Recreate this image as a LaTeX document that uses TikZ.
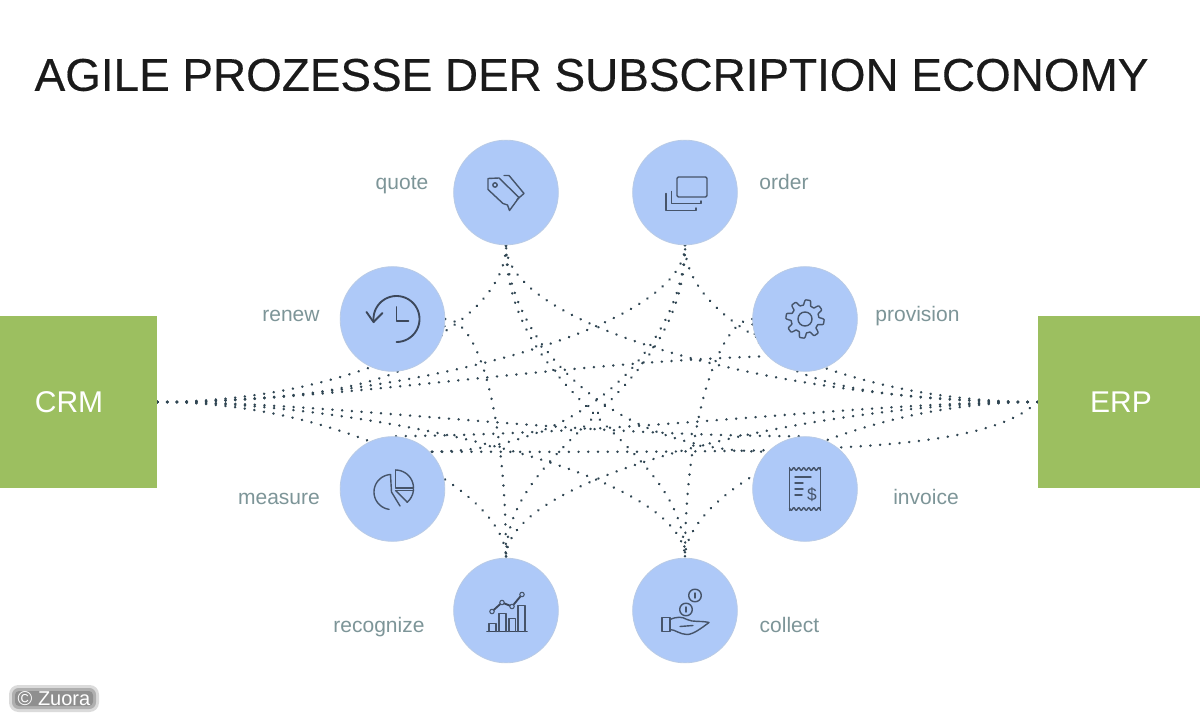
\documentclass[tikz,border=0pt]{standalone}
\usepackage{fontspec}
\setmainfont{Liberation Sans}
\newfontfamily\titlefont[FakeBold=0.35]{Liberation Sans}
\usetikzlibrary{calc}
\pgfdeclarelayer{bg}
\pgfsetlayers{bg,main}
\definecolor{cgreen}{HTML}{9CBF60}
\definecolor{cblue}{HTML}{AEC9F8}
\definecolor{cedge}{HTML}{B9CBE6}
\definecolor{clabel}{HTML}{7D9598}
\definecolor{cdot}{HTML}{2F4552}
\definecolor{cicon}{HTML}{46546A}
\definecolor{ctitle}{HTML}{1A1A1A}
\tikzset{
  bub/.style={circle,fill=cblue,draw=cedge,line width=.6pt,minimum size=78.5pt,inner sep=0pt},
  sys/.style={rectangle,fill=cgreen,draw=none,inner sep=0pt},
  syst/.style={text=white,inner sep=0pt,font=\fontsize{22.5pt}{26pt}\selectfont},
  lab/.style={text=clabel,inner sep=0pt,anchor=base,font=\fontsize{15.75pt}{18pt}\selectfont},
  link/.style={draw=cdot,line width=2pt,line cap=round,dash pattern=on .05pt off 7.25pt},
  ico/.style={draw=cicon,line width=1.05pt,line join=round,line cap=round},
  icod/.style={draw=cicon!85!black,line width=1.4pt,line join=round,line cap=round}
}
\begin{document}
\begin{tikzpicture}[x=.75pt,y=-.75pt]
\useasboundingbox (0,0) rectangle (1200,720);
% title
\node[name=title,text=ctitle,inner sep=0pt,font=\titlefont\fontsize{34.4pt}{40pt}\selectfont] at (591.5,75) {AGILE PROZESSE DER SUBSCRIPTION ECONOMY};
% systems
\node[sys,minimum width=118pt,minimum height=129pt] (crm) at (78.5,402) {};
\node[sys,minimum width=122pt,minimum height=129pt] (erp) at (1119,402) {};
\node[syst] (crmt) at (69,402) {CRM};
\node[syst] (erpt) at (1121,402) {ERP};
% bubbles
\node[bub] (quote) at (506,192.5) {};
\node[bub] (order) at (685,192.5) {};
\node[bub] (renew) at (392.5,319) {};
\node[bub] (provision) at (805,319) {};
\node[bub] (measure) at (392.5,489) {};
\node[bub] (invoice) at (805,489) {};
\node[bub] (recognize) at (506,610.5) {};
\node[bub] (collect) at (685,610.5) {};
% labels
\node[lab] (lquote) at (402,190) {quote};
\node[lab] (lorder) at (784,190) {order};
\node[lab] (lrenew) at (291,322) {renew};
\node[lab] (lprovision) at (917.5,322) {provision};
\node[lab] (lmeasure) at (279,504) {measure};
\node[lab] (linvoice) at (926,504) {invoice};
\node[lab] (lrecognize) at (379,632) {recognize};
\node[lab] (lcollect) at (789.5,632) {collect};
% connectors
\begin{pgfonlayer}{bg}
\fill[white] (0,0) rectangle (1200,720);
\draw[link] (crm.east) .. controls (340,402) and (506,330) .. (quote.south);
\draw[link] (crm.east) .. controls (300,402) and (444,385) .. (renew.east);
\draw[link] (crm.east) .. controls (400,402) and (685,330) .. (order.south);
\draw[link] (crm.east) .. controls (330,402) and (560,362) .. (provision.225);
\draw[link] (crm.east) .. controls (335,402) and (555,436) .. (invoice.north);
\draw[link] (crm.east) .. controls (360,402) and (685,470) .. (collect.north);
\draw[link] (crm.east) .. controls (340,402) and (506,490) .. (recognize.north);
\draw[link] (erp.west) .. controls (855,402) and (685,330) .. (order.south);
\draw[link] (erp.west) .. controls (895,402) and (751,385) .. (provision.west);
\draw[link] (erp.west) .. controls (795,402) and (506,330) .. (quote.south);
\draw[link] (erp.west) .. controls (860,402) and (640,434) .. (measure.north);
\draw[link] (erp.west) .. controls (980,455) and (800,452) .. (measure.45);
\draw[link] (erp.west) .. controls (835,402) and (506,470) .. (recognize.north);
\draw[link] (erp.west) .. controls (855,402) and (685,490) .. (collect.north);
\draw[link] (renew.east) .. controls (480,319) and (506,420) .. (recognize.north);
\draw[link] (provision.west) .. controls (720,319) and (685,420) .. (collect.north);
\draw[link] (quote.south) .. controls (506,400) and (685,440) .. (collect.north);
\draw[link] (order.south) .. controls (685,400) and (506,440) .. (recognize.north);
\draw[link] (quote.south) .. controls (506,330) and (600,452) .. (invoice.135);
\draw[link] (order.south) .. controls (685,330) and (597,452) .. (measure.45);
\end{pgfonlayer}
% icons
\begin{scope}[shift={(quote.center)}]
\draw[ico] (-18,-14) -- (-7,-14.5) -- (13,5) -- (3.5,18) -- (1.5,12.5) -- (-3,11) -- (-18,-3) -- cycle;
\draw[ico] (-2,-17) -- (3,-17) -- (18,1) -- (11,7);
\draw[ico] (-11,-7.5) circle[radius=2.2];
\end{scope}
\begin{scope}[shift={(order.center)}]
\draw[ico,rounded corners=1pt] (-8,-15.5) rectangle (22,4.5);
\draw[ico] (-13.5,-1) -- (-13.5,11) -- (16,11) -- (16,8.5);
\draw[ico] (-19,1) -- (-19,18) -- (11,18) -- (11,15.5);
\end{scope}
\begin{scope}[shift={(renew.center)}]
\draw[icod,smooth] plot[domain=-188:90,samples=50] ({4+23*cos(\x)},{23*sin(\x)});
\draw[icod] (-26,-7) -- (-19,3) -- (-10,-6);
\draw[icod] (4,-12) -- (4,2) -- (16,2);
\end{scope}
\begin{scope}[shift={(provision.center)}]
\draw[ico,smooth cycle] plot[domain=0:357.5,samples=144] ({(16.5+2.6*max(-1,min(1,2.2*sin(8*\x+20))))*cos(\x)},{(16.5+2.6*max(-1,min(1,2.2*sin(8*\x+20))))*sin(\x)});
\draw[ico] (0,0) circle[radius=7];
\end{scope}
\begin{scope}[shift={(measure.center)}]
\draw[ico,smooth] plot[domain=-93:-262,samples=30] ({-1+17.5*cos(\x)},{3+17.5*sin(\x)});
\draw[ico] (-2,-14.5) -- (-1,3) -- (7.5,17);
\draw[ico] (3,-19) -- (3,-1) -- (21,-1);
\draw[ico,smooth] plot[domain=-90:0,samples=12] ({3+18*cos(\x)},{-1+18*sin(\x)});
\draw[ico] (3,1.5) -- (21,1.5);
\draw[ico,smooth] plot[domain=2:50,samples=8] ({3+18*cos(\x)},{-.5+18*sin(\x)});
\draw[ico] (3,1.5) -- (15,13.4);
\end{scope}
\begin{scope}[shift={(invoice.center)}]
\draw[ico] plot[domain=-15.5:15.5,samples=40] ({\x},{-20+1.4*sin(\x*72)});
\draw[ico] plot[domain=-15.5:15.5,samples=40] ({\x},{20+1.4*sin(\x*72)});
\draw[ico] (-15.5,-21.5) -- (-15.5,21.5);
\draw[ico] (15.5,-21.5) -- (15.5,21.5);
\draw[ico] (-10,-12) -- (6,-12);
\draw[ico] (-10,-6) -- (-2,-6);
\draw[ico] (-10,0) -- (-2,0);
\draw[ico] (-10,6) -- (-3,6);
\node[text=cicon,inner sep=0pt,font=\fontsize{13pt}{14pt}\selectfont] (dollar) at (7,6) {\$};
\end{scope}
\begin{scope}[shift={(recognize.center)}]
\draw[icod] (-19,21) -- (21,21);
\draw[ico] (-17,21) -- (-17,13) -- (-10,13) -- (-10,21);
\draw[ico] (-7,21) -- (-7,3) -- (0,3) -- (0,21);
\draw[ico] (3,21) -- (3,8) -- (9.5,8) -- (9.5,21);
\draw[ico] (12,21) -- (12,-5) -- (19,-5) -- (19,21);
\draw[icod] (-14,1) -- (-4,-8) -- (6,-4) -- (16,-16);
\foreach \p in {(-14,1),(-4,-8),(6,-4),(16,-16)} \fill[cblue,draw=cicon,line width=.8pt] \p circle[radius=2.2];
\end{scope}
\begin{scope}[shift={(collect.center)}]
\draw[ico] (10,-15) circle[radius=6.3];
\draw[ico] (10,-17.5) -- (10,-12.5);
\draw[ico] (1,-1) circle[radius=6.3];
\draw[ico] (1,-3.5) -- (1,1.5);
\draw[ico] (-23,7) rectangle (-15,21);
\draw[ico] (-15,9) .. controls (-8,6) and (-3,6) .. (2,9) .. controls (8,12) and (16,10) .. (24,12) .. controls (16,18) and (8,24) .. (2,24) .. controls (-5,24) and (-10,19) .. (-15,19);
\draw[ico] (-5,16) -- (8,15);
\end{scope}
% credit
\fill[black,opacity=.14,rounded corners=7pt] (9,685) rectangle (99,712);
\fill[black,opacity=.2,rounded corners=5pt] (12,688) rectangle (96,709);
\fill[black,opacity=.18,rounded corners=3pt] (15,691) rectangle (93,706);
\node[text=white,inner sep=0pt,font=\fontsize{15pt}{17pt}\selectfont] (credit) at (54,698.5) {© Zuora};
\end{tikzpicture}
\end{document}
